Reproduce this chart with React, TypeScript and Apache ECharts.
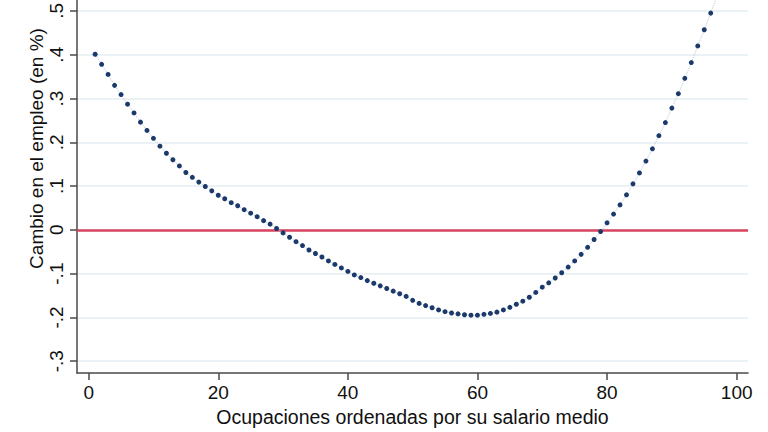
import React, { useEffect, useRef } from "react";
import * as echarts from "echarts";

const occupations: number[] = [
  1, 2, 3, 4, 5, 6, 7, 8, 9, 10, 11, 12, 13, 14, 15, 16, 17, 18, 19, 20,
  21, 22, 23, 24, 25, 26, 27, 28, 29, 30, 31, 32, 33, 34, 35, 36, 37, 38, 39, 40,
  41, 42, 43, 44, 45, 46, 47, 48, 49, 50, 51, 52, 53, 54, 55, 56, 57, 58, 59, 60,
  61, 62, 63, 64, 65, 66, 67, 68, 69, 70, 71, 72, 73, 74, 75, 76, 77, 78, 79, 80,
  81, 82, 83, 84, 85, 86, 87, 88, 89, 90, 91, 92, 93, 94, 95, 96, 97,
];

const employmentChange: number[] = [
  0.401, 0.378, 0.355, 0.33, 0.309, 0.287, 0.267, 0.246, 0.227, 0.209,
  0.191, 0.175, 0.16, 0.146, 0.131, 0.12, 0.109, 0.099, 0.089, 0.079,
  0.071, 0.062, 0.055, 0.046, 0.038, 0.03, 0.021, 0.013, 0.003, -0.007,
  -0.017, -0.027, -0.036, -0.046, -0.054, -0.062, -0.071, -0.079, -0.087, -0.095,
  -0.103, -0.109, -0.116, -0.122, -0.128, -0.134, -0.14, -0.146, -0.152, -0.161,
  -0.168, -0.173, -0.178, -0.183, -0.187, -0.19, -0.192, -0.194, -0.195, -0.195,
  -0.193, -0.191, -0.188, -0.183, -0.177, -0.17, -0.163, -0.154, -0.143, -0.131,
  -0.121, -0.11, -0.098, -0.085, -0.071, -0.056, -0.04, -0.022, -0.004, 0.016,
  0.036, 0.057, 0.08, 0.105, 0.13, 0.157, 0.185, 0.215, 0.245, 0.278,
  0.311, 0.346, 0.382, 0.42, 0.457, 0.495, 0.535,
];

const xTicks: number[] = [0, 20, 40, 60, 80, 100];
const yTicks: number[] = [-0.3, -0.2, -0.1, 0, 0.1, 0.2, 0.3, 0.4, 0.5];

const xTitle = "Ocupaciones ordenadas por su salario medio";
const yTitle = "Cambio en el empleo (en %)";

const FONT = "'Liberation Sans', Arial, Helvetica, sans-serif";

function fmtY(v: number): string {
  const r = Math.round(v * 10) / 10;
  if (r === 0) return "0";
  return String(r).replace("0.", ".");
}

export default function App() {
  const ref = useRef<HTMLDivElement>(null);

  useEffect(() => {
    if (!ref.current) return;
    const chart = echarts.init(ref.current, null, { renderer: "svg" });
    const data = occupations.map((x, i) => [x, employmentChange[i]]);
    const axisColor = "#4a4a4a";
    const textColor = "#111111";
    chart.setOption({
      animation: false,
      backgroundColor: "#ffffff",
      grid: { left: 77, right: 20, top: 0, bottom: 59, containLabel: false },
      xAxis: {
        type: "value",
        min: -1.8,
        max: 101.75,
        name: xTitle,
        nameLocation: "middle",
        nameGap: 25,
        nameTextStyle: { fontFamily: FONT, fontSize: 19.5, color: textColor },
        axisLine: { show: true, onZero: false, lineStyle: { color: axisColor, width: 1.5 } },
        axisTick: {
          show: true,
          inside: false,
          length: 7,
          customValues: xTicks,
          lineStyle: { color: axisColor, width: 1.5 },
        },
        axisLabel: {
          customValues: xTicks,
          margin: 10,
          fontFamily: FONT,
          fontSize: 19,
          color: textColor,
        },
        splitLine: { show: false },
      },
      yAxis: {
        type: "value",
        min: -0.327,
        max: 0.524,
        axisLine: { show: true, onZero: false, lineStyle: { color: axisColor, width: 1.5 } },
        axisTick: {
          show: true,
          inside: false,
          length: 7,
          customValues: yTicks,
          lineStyle: { color: axisColor, width: 1.5 },
        },
        axisLabel: {
          customValues: yTicks,
          rotate: 90,
          margin: 11,
          fontFamily: FONT,
          fontSize: 19,
          color: textColor,
          formatter: (v: number) => fmtY(v),
        },
        splitLine: { show: true, lineStyle: { color: "#e4eef2", width: 1.5 } },
      },
      graphic: [
        {
          type: "text",
          x: 36,
          y: 148.5,
          rotation: Math.PI / 2,
          style: {
            text: yTitle,
            fontFamily: FONT,
            fontSize: 19,
            fill: textColor,
            textAlign: "center",
            textVerticalAlign: "middle",
          },
        },
      ],
      series: [
        {
          type: "line",
          data,
          clip: true,
          symbol: "circle",
          symbolSize: 5,
          showSymbol: true,
          itemStyle: { color: "#1b3a6b" },
          lineStyle: { color: "#b7c8da", width: 1, type: "dotted" },
          z: 5,
          markLine: {
            silent: true,
            symbol: "none",
            label: { show: false },
            lineStyle: { color: "#d8435f", width: 2.5, type: "solid" },
            data: [{ yAxis: 0 }],
            z: 3,
          },
        },
      ],
    });
    return () => chart.dispose();
  }, []);

  return (
    <div
      ref={ref}
      style={{ position: "absolute", left: 0, top: 0, width: 768, height: 432, background: "#fff" }}
    />
  );
}
